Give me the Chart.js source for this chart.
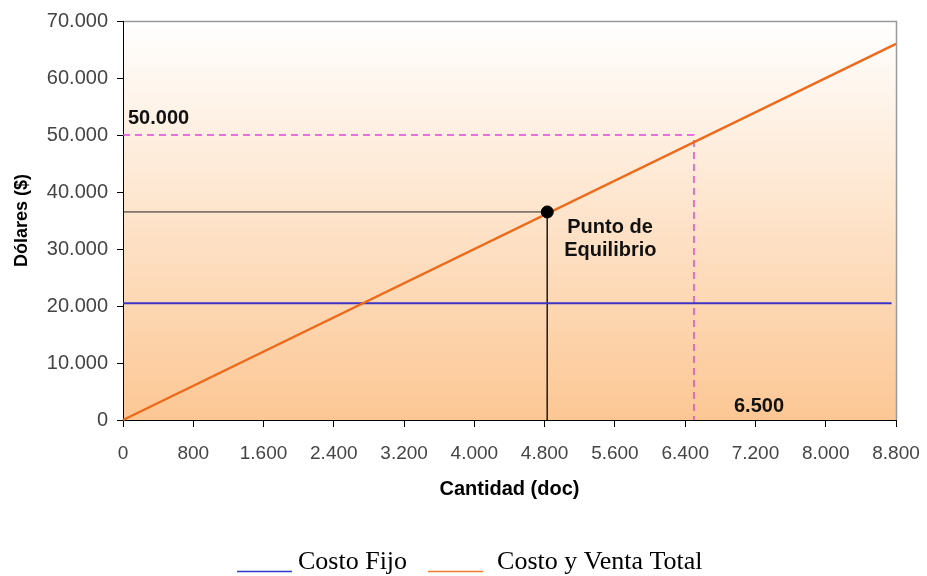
<!DOCTYPE html>
<html>
<head>
<meta charset="utf-8">
<script src="https://cdn.jsdelivr.net/npm/chart.js@4/dist/chart.umd.min.js"></script>
<style>
  html, body { margin: 0; padding: 0; background: #ffffff; }
  #wrap { width: 927px; height: 576px; }
</style>
</head>
<body>
<div id="wrap"><canvas id="chart" width="927" height="576"></canvas></div>
<script>
// Break-even analysis: fixed cost vs. total cost / revenue line
const quantityRange = [0, 8800];          // units (doc)
const totalCostValues = [0, 66000];       // dollars at each end of the range
const fixedCostQuantities = [0, 8750];
const fixedCostValues = [20500, 20500];
const breakEvenQuantity = 4830;
const breakEvenValue = 36500;
const targetQuantity = 6500;
const targetRevenue = 50000;
const xTickStep = 800;
const yTickStep = 10000;
const xMax = 8800;
const yMax = 70000;
const seriesLabels = ['Costo Fijo', 'Costo y Venta Total'];

const BLUE = '#3a35c4';
const ORANGE = '#ec6a1a';
const MAGENTA = '#e244e0';

// Thousands separator with a dot: 8800 -> "8.800"
function fmt(v) {
  return String(Math.round(v)).replace(/\B(?=(\d{3})+(?!\d))/g, '.');
}

function pts(xs, ys) {
  return xs.map((x, i) => ({ x: x, y: ys[i] }));
}

// Plot background: white at the top fading to peach at the bottom, gray frame top/right
const plotBackground = {
  id: 'plotBackground',
  beforeDraw(chart) {
    const { ctx, chartArea: a } = chart;
    const g = ctx.createLinearGradient(0, a.top, 0, a.bottom);
    g.addColorStop(0, '#ffffff');
    g.addColorStop(1, '#fcc794');
    ctx.save();
    ctx.fillStyle = g;
    ctx.fillRect(a.left, a.top, a.right - a.left, a.bottom - a.top);
    ctx.strokeStyle = '#9a9a9a';
    ctx.lineWidth = 1.5;
    ctx.beginPath();
    ctx.moveTo(a.left, a.top + 0.5);
    ctx.lineTo(a.right + 0.5, a.top + 0.5);
    ctx.lineTo(a.right + 0.5, a.bottom);
    ctx.stroke();
    ctx.restore();
  }
};

// Value annotations and the break-even caption
const annotations = {
  id: 'annotations',
  afterDatasetsDraw(chart) {
    const { ctx } = chart;
    const xs = chart.scales.x, ys = chart.scales.y;
    ctx.save();
    ctx.fillStyle = '#111111';
    ctx.font = 'bold 20px "Liberation Sans", Arial, sans-serif';
    ctx.textAlign = 'left';
    ctx.textBaseline = 'alphabetic';
    ctx.fillText(fmt(targetRevenue), xs.getPixelForValue(0) + 5, ys.getPixelForValue(targetRevenue) - 11);
    ctx.fillText(fmt(targetQuantity), xs.getPixelForValue(targetQuantity) + 40, ys.getPixelForValue(0) - 8);
    const bx = xs.getPixelForValue(breakEvenQuantity);
    const by = ys.getPixelForValue(breakEvenValue);
    ctx.fillText('Punto de', bx + 20, by + 21);
    ctx.fillText('Equilibrio', bx + 17, by + 44);
    ctx.restore();
  }
};

// Legend drawn as short underlines followed by serif labels
const underlineLegend = {
  id: 'underlineLegend',
  afterDraw(chart) {
    const { ctx } = chart;
    const items = chart.data.datasets
      .filter(d => d.legendOrder !== undefined)
      .sort((a, b) => a.legendOrder - b.legendOrder);
    const labelGaps = [6, 14];
    ctx.save();
    ctx.font = '26px "Liberation Serif", "Times New Roman", serif';
    ctx.textBaseline = 'alphabetic';
    ctx.textAlign = 'left';
    let x = 237;
    const baseY = 569;
    items.forEach((d, i) => {
      ctx.strokeStyle = d.legendColor;
      ctx.lineWidth = 1.5;
      ctx.beginPath();
      ctx.moveTo(x, baseY + 2.5);
      ctx.lineTo(x + 55, baseY + 2.5);
      ctx.stroke();
      x += 55 + labelGaps[i];
      ctx.fillStyle = '#000000';
      ctx.fillText(d.label, x, baseY);
      x += ctx.measureText(d.label).width + 21;
    });
    ctx.restore();
  }
};

const chart = new Chart(document.getElementById('chart'), {
  type: 'scatter',
  data: {
    datasets: [
      {
        label: 'Punto de Equilibrio',
        data: [{ x: breakEvenQuantity, y: breakEvenValue }],
        pointRadius: 6,
        pointBackgroundColor: '#000000',
        pointBorderColor: '#000000',
        showLine: false
      },
      {
        label: seriesLabels[1],
        data: pts(quantityRange, totalCostValues),
        borderColor: ORANGE,
        borderWidth: 2.5,
        showLine: true,
        pointRadius: 0,
        legendOrder: 1,
        legendColor: '#f07a2e',
        clip: 2
      },
      {
        label: seriesLabels[0],
        data: pts(fixedCostQuantities, fixedCostValues),
        borderColor: BLUE,
        borderWidth: 2,
        showLine: true,
        pointRadius: 0,
        legendOrder: 0,
        legendColor: '#2a3ccc'
      },
      {
        label: 'guía equilibrio',
        data: [{ x: 0, y: breakEvenValue }, { x: breakEvenQuantity, y: breakEvenValue }, { x: breakEvenQuantity, y: 0 }],
        borderColor: '#222222',
        borderWidth: 1,
        showLine: true,
        pointRadius: 0
      },
      {
        label: 'guía objetivo',
        data: [{ x: 0, y: targetRevenue }, { x: targetQuantity, y: targetRevenue }, { x: targetQuantity, y: 0 }],
        borderColor: MAGENTA,
        borderWidth: 1.5,
        borderDash: [7, 5],
        showLine: true,
        pointRadius: 0
      }
    ]
  },
  options: {
    responsive: false,
    animation: false,
    layout: { padding: { top: 20, right: 31, bottom: 75, left: 0 } },
    plugins: {
      legend: { display: false },
      tooltip: { enabled: false }
    },
    scales: {
      x: {
        type: 'linear',
        min: 0,
        max: xMax,
        afterFit(scale) {
          scale.height = 81;
          scale.paddingLeft = 0;
          scale.paddingRight = 0;
        },
        afterBuildTicks(scale) {
          const t = [];
          for (let v = 0; v <= xMax; v += xTickStep) t.push({ value: v });
          scale.ticks = t;
        },
        ticks: {
          autoSkip: false,
          maxRotation: 0,
          padding: 15,
          color: '#444444',
          font: { family: '"Liberation Sans", Arial, sans-serif', size: 19 },
          callback: v => fmt(v)
        },
        grid: { drawOnChartArea: false, drawTicks: true, tickLength: 7, color: '#000000' },
        border: { color: '#000000', width: 1 },
        title: {
          display: true,
          text: 'Cantidad (doc)',
          color: '#000000',
          font: { family: '"Liberation Sans", Arial, sans-serif', size: 20, weight: 'bold' },
          padding: 0
        }
      },
      y: {
        type: 'linear',
        min: 0,
        max: yMax,
        afterFit(scale) { scale.width = 123; },
        afterBuildTicks(scale) {
          const t = [];
          for (let v = 0; v <= yMax; v += yTickStep) t.push({ value: v });
          scale.ticks = t;
        },
        ticks: {
          padding: 9,
          color: '#444444',
          font: { family: '"Liberation Sans", Arial, sans-serif', size: 20 },
          callback: v => fmt(v)
        },
        grid: { drawOnChartArea: false, drawTicks: true, tickLength: 6, color: '#000000' },
        border: { color: '#000000', width: 1 },
        title: {
          display: true,
          text: 'Dólares ($)',
          color: '#000000',
          font: { family: '"Liberation Sans", Arial, sans-serif', size: 18, weight: 'bold' },
          padding: { top: 11, bottom: 0 }
        }
      }
    }
  },
  plugins: [plotBackground, annotations, underlineLegend]
});
</script>
</body>
</html>
